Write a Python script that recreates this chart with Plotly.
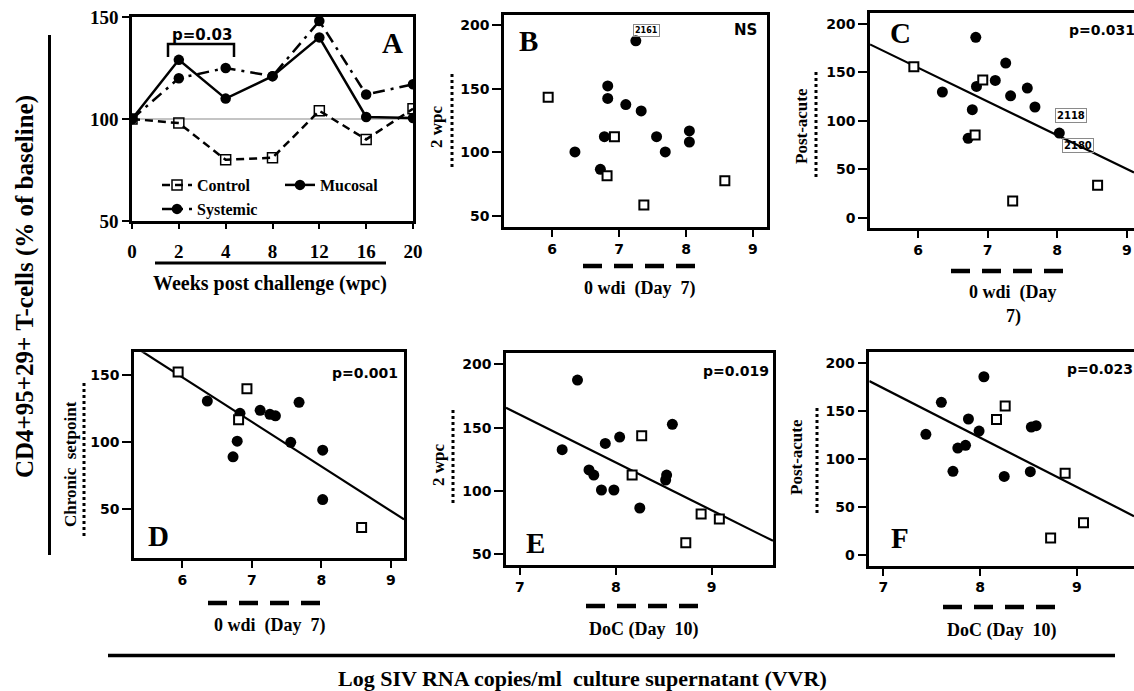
import plotly.graph_objects as go

W, H = 1134, 691
def px(x): return x / W
def py(y): return 1 - y / H

SERIF = "Liberation Serif"
SANS = "DejaVu Sans"

# ---------------- Panel A data ----------------
weeks = ["0", "2", "4", "8", "12", "16", "20"]
control = [100, 98, 80, 81, 104, 90, 105]
mucosal = [100, 129, 110, 121, 140, 101, 100.5]
systemic = [100, 120, 125, 121, 148, 112, 117]

# ---------------- Panel B (0 wdi VVR vs 2 wpc) ----------------
B_x_circ = [7.25, 6.83, 6.83, 7.10, 7.33, 6.78, 7.56, 7.69, 8.05, 8.05, 6.34, 6.72]
B_y_circ = [187.6, 152.2, 142.3, 137.5, 132.5, 112.3, 112.3, 100.3, 116.8, 108.1, 100.3, 86.6]
B_x_sq = [5.94, 6.93, 6.82, 7.37, 8.58]
B_y_sq = [143.3, 112.3, 81.6, 58.5, 77.7]

# ---------------- Panel C (0 wdi VVR vs post-acute) ----------------
C_x_circ = [6.83, 7.26, 7.11, 6.84, 6.35, 7.57, 7.33, 7.68, 6.78, 6.72, 8.03]
C_y_circ = [186.3, 159.7, 141.8, 135.6, 129.8, 133.9, 125.9, 114.3, 111.5, 81.9, 87.4]
C_x_sq = [5.94, 6.93, 6.82, 7.36, 8.58]
C_y_sq = [155.9, 142.1, 85.3, 17.1, 33.4]
C_fit = [364.3, -34.9]   # intercept, slope

# ---------------- Panel D (0 wdi VVR vs chronic setpoint) ----------------
D_x_circ = [6.36, 6.83, 7.12, 7.26, 7.34, 7.68, 7.56, 6.79, 6.73, 8.02, 8.02]
D_y_circ = [130.6, 121.4, 123.7, 120.7, 119.6, 129.6, 99.8, 100.7, 89.0, 94.0, 57.2]
D_x_sq = [5.94, 6.93, 6.81, 8.58]
D_y_sq = [152.2, 139.8, 116.6, 36.3]
D_fit = [347.5, -33.2]

# ---------------- Panel E (DoC VVR vs 2 wpc) ----------------
E_x_circ = [7.60, 7.44, 7.89, 8.04, 8.59, 7.72, 7.77, 7.85, 7.98, 8.25, 8.53, 8.52]
E_y_circ = [187.6, 132.6, 137.6, 142.6, 152.6, 116.6, 112.6, 100.8, 100.8, 86.6, 112.6, 108.7]
E_x_sq = [8.27, 8.17, 8.89, 9.08, 8.73]
E_y_sq = [143.6, 112.6, 81.8, 77.9, 59.2]
E_fit = [424.1, -37.7]

# ---------------- Panel F (DoC VVR vs post-acute) ----------------
F_x_circ = [8.04, 7.60, 7.44, 7.88, 7.99, 7.77, 7.85, 7.72, 8.25, 8.52, 8.53, 8.58]
F_y_circ = [186.0, 159.3, 125.9, 141.9, 129.3, 111.6, 114.4, 87.3, 82.0, 86.9, 133.5, 134.9]
F_x_sq = [8.26, 8.17, 8.88, 9.07, 8.73]
F_y_sq = [155.4, 141.5, 85.2, 33.6, 17.6]
F_fit = [534.5, -51.5]

# axis ranges
A_xr, A_yr = [0, 6], [50, 150]
B_xr, B_yr = [5.28, 9.21], [41.3, 207.9]
C_xr, C_yr = [5.31, 9.103], [-10.7, 211.4]
D_xr, D_yr = [5.305, 9.19], [13.4, 166.9]
E_xr, E_yr = [6.854, 9.64], [41.6, 208.7]
F_xr, F_yr = [6.855, 9.592], [-11.2, 211.5]

fig = go.Figure()

# ---- Panel A traces ----
xa = list(range(len(weeks)))
fig.add_trace(go.Scatter(x=xa, y=control, name="Control", mode="lines+markers",
                         line=dict(color="black", width=2.5, dash="8px,5px"),
                         marker=dict(symbol="square-open", size=10, color="black", line=dict(width=1.5)),
                         xaxis="x", yaxis="y", legend="legend"))
fig.add_trace(go.Scatter(x=xa, y=mucosal, name="Mucosal", mode="lines+markers",
                         line=dict(color="black", width=2.5),
                         marker=dict(symbol="circle", size=10.5, color="black"),
                         xaxis="x", yaxis="y", legend="legend"))
fig.add_trace(go.Scatter(x=xa, y=systemic, name="Systemic", mode="lines+markers",
                         line=dict(color="black", width=2.5, dash="12px,6px,3px,6px"),
                         marker=dict(symbol="circle", size=10.5, color="black"),
                         xaxis="x", yaxis="y", legend="legend2"))

def scatter_panel(n, xc, yc, xs, ys, fit=None, xr=None):
    ax = "x" + str(n)
    ay = "y" + str(n)
    if fit is not None:
        fx = [xr[0], xr[1]]
        fy = [fit[0] + fit[1] * v for v in fx]
        fig.add_trace(go.Scatter(x=fx, y=fy, mode="lines", line=dict(color="black", width=2.2),
                                 showlegend=False, xaxis=ax, yaxis=ay))
    fig.add_trace(go.Scatter(x=xc, y=yc, mode="markers", showlegend=False,
                             marker=dict(symbol="circle", size=11, color="black"),
                             xaxis=ax, yaxis=ay))
    fig.add_trace(go.Scatter(x=xs, y=ys, mode="markers", showlegend=False,
                             marker=dict(symbol="square", size=9, color="white",
                                         line=dict(color="black", width=2)),
                             xaxis=ax, yaxis=ay))

scatter_panel(2, B_x_circ, B_y_circ, B_x_sq, B_y_sq)
scatter_panel(3, C_x_circ, C_y_circ, C_x_sq, C_y_sq, C_fit, C_xr)
scatter_panel(4, D_x_circ, D_y_circ, D_x_sq, D_y_sq, D_fit, D_xr)
scatter_panel(5, E_x_circ, E_y_circ, E_x_sq, E_y_sq, E_fit, E_xr)
scatter_panel(6, F_x_circ, F_y_circ, F_x_sq, F_y_sq, F_fit, F_xr)

def axis(domain, rng, fam, size, ticklen, mirror=True, **kw):
    d = dict(domain=domain, range=rng, showline=True, linewidth=2.6, linecolor="black",
             mirror=mirror, ticks="outside", ticklen=ticklen, tickwidth=2, tickcolor="black",
             showgrid=False, zeroline=False, automargin=False,
             tickfont=dict(family=fam, size=size, color="black", weight="bold"))
    d.update(kw)
    return d

TS = 14  # sans tick font size

layout = dict(
    width=W, height=H, margin=dict(l=0, r=0, t=0, b=0, autoexpand=False),
    paper_bgcolor="white", plot_bgcolor="white",
    xaxis=axis([px(132), px(413)], A_xr, SERIF, 19, 5, tickvals=xa, ticktext=weeks,
               anchor="y", ticklabelstandoff=6),
    yaxis=axis([py(221), py(17)], A_yr, SERIF, 19, 7, tickvals=[50, 100, 150], anchor="x"),
    xaxis2=axis([px(504), px(767)], B_xr, SANS, TS, 7, tickvals=[6, 7, 8, 9], anchor="y2"),
    yaxis2=axis([py(227), py(15)], B_yr, SANS, TS, 9, tickvals=[50, 100, 150, 200], anchor="x2"),
    xaxis3=axis([px(870), 1.0], C_xr, SANS, TS, 7, tickvals=[6, 7, 8, 9], anchor="y3"),
    yaxis3=axis([py(228), py(13)], C_yr, SANS, TS, 9, mirror=False,
                tickvals=[0, 50, 100, 150, 200], anchor="x3"),
    xaxis4=axis([px(134), px(404)], D_xr, SANS, TS, 7, tickvals=[6, 7, 8, 9], anchor="y4"),
    yaxis4=axis([py(558.3), py(352.3)], D_yr, SANS, TS, 9, tickvals=[50, 100, 150], anchor="x4"),
    xaxis5=axis([px(506), px(773)], E_xr, SANS, TS, 7, tickvals=[7, 8, 9], anchor="y5"),
    yaxis5=axis([py(565), py(353.3)], E_yr, SANS, TS, 9, tickvals=[50, 100, 150, 200], anchor="x5"),
    xaxis6=axis([px(869.3), 1.0], F_xr, SANS, TS, 7, tickvals=[7, 8, 9], anchor="y6"),
    yaxis6=axis([py(565.7), py(352.3)], F_yr, SANS, TS, 9, mirror=False,
                tickvals=[0, 50, 100, 150, 200], anchor="x6"),
    legend=dict(orientation="h", x=px(157), y=py(185), xanchor="left", yanchor="middle",
                bgcolor="rgba(0,0,0,0)", itemwidth=30, entrywidth=78,
                font=dict(family=SERIF, size=16, color="black", weight="bold")),
    legend2=dict(orientation="h", x=px(157), y=py(209), xanchor="left", yanchor="middle",
                 bgcolor="rgba(0,0,0,0)", itemwidth=30,
                 font=dict(family=SERIF, size=16, color="black", weight="bold")),
    showlegend=True,
)
fig.update_layout(**layout)

shapes = []
def pline(x0, y0, x1, y1, width=3, dash="solid"):
    shapes.append(dict(type="line", xref="paper", yref="paper",
                       x0=px(x0), y0=py(y0), x1=px(x1), y1=py(y1),
                       line=dict(color="black", width=width, dash=dash)))

# baseline reference in A
shapes.append(dict(type="line", xref="x", yref="y", x0=A_xr[0], x1=A_xr[1], y0=100, y1=100,
                   line=dict(color="#8a8a8a", width=1.2), layer="below"))
# p=0.03 bracket
shapes.append(dict(type="path", xref="paper", yref="paper",
                   path="M {},{} L {},{} L {},{} L {},{}".format(px(168), py(57), px(168), py(44),
                                                                px(234), py(44), px(234), py(57)),
                   line=dict(color="black", width=2.5)))
# A underline
pline(155, 263, 386, 263, 3)
# dashed x-axis markers
for (x0, x1, y) in [(583, 696, 266), (951, 1065, 271), (208, 321, 603), (586, 699, 606), (943, 1055, 607)]:
    pline(x0, y, x1, y, 4.5, "19px,12px")
# dotted y-axis markers
for (x, y0, y1) in [(452, 74, 168), (816, 72, 178), (84, 383, 537), (453, 410, 503), (817, 408, 513)]:
    pline(x, y0, x, y1, 3, "dot")
# global bracket lines
pline(49.5, 35, 49.5, 555, 3)
pline(108, 655.5, 1115, 655.5, 3.5)
fig.update_layout(shapes=shapes)

ann = []
def txt(x, y, s, fam=SERIF, size=17, angle=0, xanchor="center", **kw):
    d = dict(x=px(x), y=py(y), xref="paper", yref="paper", text=s, showarrow=False,
             textangle=angle, xanchor=xanchor, yanchor="middle",
             font=dict(family=fam, size=size, color="black", weight="bold"))
    d.update(kw)
    ann.append(d)

# panel letters
for (x, y, s) in [(392, 43, "A"), (528, 41, "B"), (900, 33, "C"), (158, 536, "D"), (535, 543, "E"), (900, 538, "F")]:
    txt(x, y, s, SERIF, 29)
# p-values
txt(202, 35, "p=0.03", SANS, 15)
txt(745, 30, "NS", SANS, 15)
txt(1067, 30, "p=0.031", SANS, 14, xanchor="left")
txt(330, 373, "p=0.001", SANS, 14, xanchor="left")
txt(701, 371, "p=0.019", SANS, 14, xanchor="left")
txt(1065, 369, "p=0.023", SANS, 14, xanchor="left")
# x titles
txt(270, 284, "Weeks post challenge (wpc)", SERIF, 20)
txt(640, 289, "0 wdi  (Day  7)", SERIF, 18)
txt(1013, 292, "0 wdi  (Day", SERIF, 18)
txt(1013, 316, "7)", SERIF, 18)
txt(270, 625, "0 wdi  (Day  7)", SERIF, 18)
txt(644, 629, "DoC (Day  10)", SERIF, 18)
txt(1002, 630, "DoC (Day  10)", SERIF, 18)
# y titles
txt(437, 127, "2 wpc", SERIF, 17, -90)
txt(801, 126, "Post-acute", SERIF, 17, -90)
txt(70, 464, "Chronic  setpoint", SERIF, 17, -90)
txt(438, 465, "2 wpc", SERIF, 17, -90)
txt(797, 457, "Post-acute", SERIF, 17, -90)
# global titles
txt(25, 287, "CD4+95+29+ T-cells (% of baseline)", SERIF, 25, -90)
txt(582, 678, "Log SIV RNA copies/ml  culture supernatant (VVR)", SERIF, 22)

# animal ID labels
def idlab(xref, yref, x, y, s, size):
    ann.append(dict(x=x, y=y, xref=xref, yref=yref, text=s, showarrow=False,
                    bordercolor="#8a8a8a", borderwidth=1, borderpad=1,
                    font=dict(family=SANS, size=size, color="black", weight="bold")))
idlab("x2", "y2", 7.41, 195.5, "2161", 8)
idlab("x3", "y3", 8.20, 105.3, "2118", 10)
idlab("x3", "y3", 8.30, 74.7, "2180", 10)

fig.update_layout(annotations=ann)

fig.write_html("out.html", config={"displayModeBar": False},
               post_script="document.body.style.margin='0';")
